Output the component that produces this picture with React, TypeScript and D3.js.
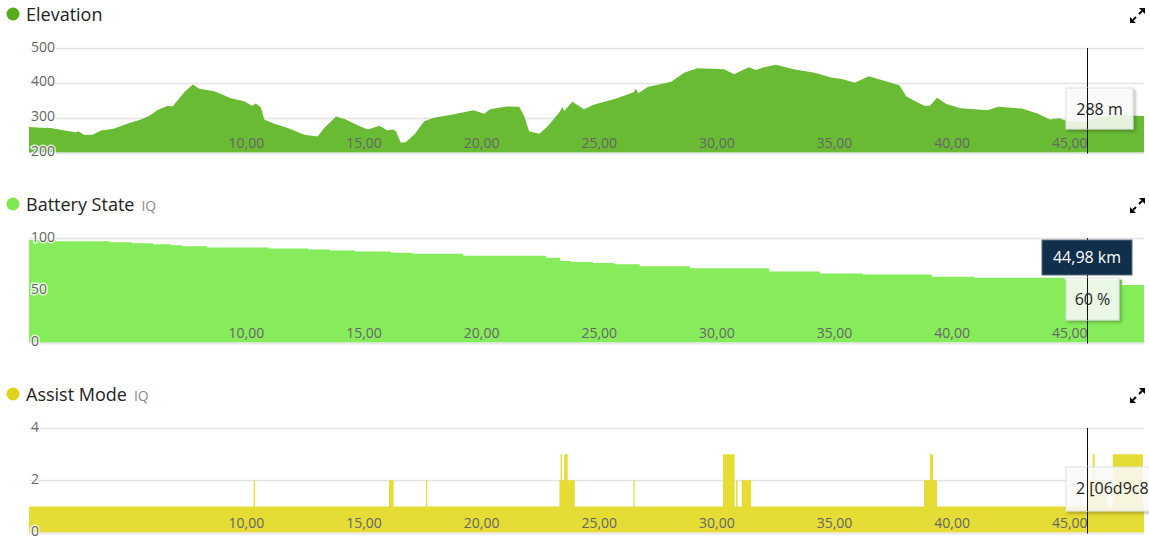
import { useEffect, useRef } from 'react';
import * as d3 from 'd3';

// Elevation profile (km, m)
const elevKm = [0, 0.5, 0.93, 1.5, 2.0, 2.1, 2.35, 2.7, 3.06, 3.6, 4.2, 4.76, 5.1, 5.47, 5.9, 6.1, 6.25, 6.6, 6.96, 7.24, 7.88, 8.58, 9.15, 9.48, 9.65, 9.86, 10.0, 10.4, 11.0, 11.7, 12.27, 12.55, 13.05, 13.47, 13.97, 14.4, 14.9, 15.24, 15.45, 15.6, 15.8, 16.0, 16.4, 16.8, 17.2, 17.9, 18.9, 19.35, 19.6, 20.3, 20.84, 21.05, 21.26, 21.7, 22.04, 22.54, 22.68, 22.75, 23.1, 23.6, 24.0, 25.0, 25.7, 25.8, 25.9, 26.3, 27.3, 27.85, 28.4, 29.55, 29.97, 30.6, 30.9, 31.25, 31.75, 32.5, 33.4, 34.1, 34.6, 35.1, 35.7, 36.35, 37.0, 37.3, 38.05, 38.3, 38.6, 39.0, 39.6, 40.75, 41.2, 42.2, 42.9, 43.4, 43.8, 44.15, 44.98, 45.3, 46.4, 47.3, 47.4];
const elevM = [273, 271, 270, 263, 258, 261, 250, 251, 263, 268, 283, 295, 305, 322, 334, 332, 344, 373, 395, 383, 376, 356, 347, 334, 341, 329, 295, 283, 270, 251, 246, 270, 303, 295, 278, 266, 277, 263, 267, 261, 229, 229, 253, 290, 300, 308, 321, 311, 324, 332, 331, 305, 261, 254, 275, 315, 331, 319, 346, 324, 337, 356, 373, 383, 370, 388, 403, 429, 442, 439, 425, 445, 437, 445, 452, 439, 429, 415, 410, 400, 419, 406, 393, 361, 334, 334, 357, 339, 327, 321, 331, 326, 311, 295, 298, 290, 288, 300, 308, 305, 305];

// Battery state steps (km where the step begins, %)
const batteryKm = [0, 1.15, 2.07, 3.44, 4.37, 5.28, 6.05, 6.51, 7.58, 10.19, 11.87, 12.79, 13.86, 15.39, 16.31, 18.45, 21.98, 22.59, 23.05, 23.97, 24.89, 25.96, 28.1, 31.47, 33.62, 35.46, 38.37, 40.2, 44.03, 46.47, 47.4];
const batteryPct = [98, 97, 97, 96, 95, 94, 93, 92, 91, 90, 89, 88, 87, 86, 85, 83, 81, 78, 77, 76, 75, 73, 71, 68, 66, 65, 63, 62, 60, 55, 55];

// Assist mode steps (km where the step begins, mode)
const assistKm = [0, 9.55, 9.61, 15.3, 15.5, 16.88, 16.93, 22.55, 22.6, 22.66, 22.75, 22.9, 23.2, 25.7, 25.75, 29.5, 30.0, 30.06, 30.12, 30.3, 30.7, 38.05, 38.3, 38.43, 38.6, 45.0, 45.22, 45.3, 45.8, 46.07, 47.35, 47.4];
const assistMode = [1, 2, 1, 2, 1, 2, 1, 2, 3, 2, 3, 2, 1, 2, 1, 3, 1, 2, 1, 2, 1, 2, 3, 2, 1, 2, 3, 2, 1, 3, 1, 1];

const kmTicks = [10, 15, 20, 25, 30, 35, 40, 45];
const elevTicks = [200, 300, 400, 500];
const batteryTicks = [0, 50, 100];
const assistTicks = [0, 2, 4];
const cursorKm = 44.98;

const panels = [
    { title: 'Elevation', iq: false, dot: '#58ab1c', fill: '#6abb34', km: elevKm, vals: elevM, domain: [200, 500], ticks: elevTicks, step: false },
    { title: 'Battery State', iq: true, dot: '#7ee84f', fill: '#86ec5b', km: batteryKm, vals: batteryPct, domain: [0, 100], ticks: batteryTicks, step: true },
    { title: 'Assist Mode', iq: true, dot: '#e0d31c', fill: '#e5dc35', km: assistKm, vals: assistMode, domain: [0, 4], ticks: assistTicks, step: true }
];

const App = () => {
    const svgRef = useRef<SVGSVGElement>(null);

    useEffect(() => {
        if (!svgRef.current) return;
        d3.select(svgRef.current).selectAll('*').remove();

        const width = 1149;
        const height = 545;
        const font = '"Open Sans", "Noto Sans", sans-serif';

        const svg = d3.select(svgRef.current)
            .attr('width', width)
            .attr('height', height)
            .style('font-family', font);

        const defs = svg.append('defs');
        const shadow = defs.append('filter').attr('id', 'tipShadow')
            .attr('x', '-20%').attr('y', '-20%').attr('width', '150%').attr('height', '150%');
        shadow.append('feDropShadow')
            .attr('dx', 2).attr('dy', 2).attr('stdDeviation', 1.5)
            .attr('flood-color', '#000').attr('flood-opacity', 0.3);

        const xScale = d3.scaleLinear().domain([0, 47.4]).range([29, 1144]);
        const cx = Math.round(xScale(cursorKm)) + 0.5;

        panels.forEach((p, i) => {
            const off = i * 190;
            const top = 48 + off;
            const bottom = 152.5 + off;
            const g = svg.append('g');

            const yScale = d3.scaleLinear().domain(p.domain).range([bottom, top]);

            // header
            g.append('circle')
                .attr('cx', 13).attr('cy', 14 + off).attr('r', 6.5)
                .attr('fill', p.dot);
            const title = g.append('text')
                .attr('x', 26).attr('y', 21 + off)
                .attr('fill', '#222')
                .attr('font-size', '18px')
                .text(p.title);
            if (p.iq) {
                const tw = (title.node() as SVGTextElement).getComputedTextLength();
                g.append('text')
                    .attr('x', 26 + tw + 7).attr('y', 21 + off)
                    .attr('fill', '#8a8a8a')
                    .attr('font-size', '14px')
                    .text('IQ');
            }

            // expand icon
            const ix = 1130, iy = 8 + off;
            g.append('path')
                .attr('d', `M${ix + 15},${iy} L${ix + 15},${iy + 6} L${ix + 9},${iy} Z M${ix},${iy + 15} L${ix},${iy + 9} L${ix + 6},${iy + 15} Z`)
                .attr('fill', '#000');
            g.append('path')
                .attr('d', `M${ix + 12},${iy + 3} L${ix + 9},${iy + 6} M${ix + 3},${iy + 12} L${ix + 6},${iy + 9}`)
                .attr('stroke', '#000').attr('stroke-width', 2);

            // grid
            g.selectAll('.grid')
                .data(p.ticks)
                .join('line')
                .attr('class', 'grid')
                .attr('x1', 29).attr('x2', 1144)
                .attr('y1', d => Math.round(yScale(d)) + 0.5)
                .attr('y2', d => Math.round(yScale(d)) + 0.5)
                .attr('stroke', '#e3e3e3')
                .attr('stroke-width', 1.5);

            // area
            const area = d3.area<number>()
                .x((d, j) => xScale(p.km[j]))
                .y0(bottom)
                .y1(d => yScale(d))
                .curve(p.step ? d3.curveStepAfter : d3.curveLinear);

            g.append('path')
                .datum(p.vals)
                .attr('d', area)
                .attr('fill', p.fill);

            // bottom axis line
            g.append('line')
                .attr('x1', 29).attr('x2', 1144)
                .attr('y1', bottom + 1).attr('y2', bottom + 1)
                .attr('stroke', '#e6e8ee').attr('stroke-width', 1.5);

            // x labels
            g.selectAll('.xlab')
                .data(kmTicks)
                .join('text')
                .attr('class', 'xlab')
                .attr('x', d => xScale(d))
                .attr('y', bottom - 4.5)
                .attr('text-anchor', 'end')
                .attr('fill', '#666')
                .attr('font-size', '14px')
                .text(d => d3.format('.2f')(d).replace('.', ','));

            // y labels
            g.selectAll('.ylab')
                .data(p.ticks)
                .join('text')
                .attr('class', 'ylab')
                .attr('x', 31)
                .attr('y', d => yScale(d) + 3.5)
                .attr('fill', '#666')
                .attr('font-size', '14px')
                .attr('stroke', '#fff')
                .attr('stroke-width', 3)
                .attr('stroke-opacity', 0.8)
                .attr('paint-order', 'stroke')
                .text(d => d);

            // cursor
            g.append('line')
                .attr('class', 'cursor')
                .attr('x1', cx).attr('x2', cx)
                .attr('y1', top).attr('y2', bottom + 1)
                .attr('stroke', '#111').attr('stroke-width', 1);
        });

        // tooltips
        const lightTip = (x: number, y: number, w: number, h: number, label: string, tx: number, anchor: string) => {
            const t = svg.append('g');
            t.append('rect')
                .attr('x', x).attr('y', y).attr('width', w).attr('height', h)
                .attr('fill', 'rgba(255,255,255,0.82)')
                .attr('stroke', '#ddd').attr('stroke-width', 1)
                .attr('filter', 'url(#tipShadow)');
            t.append('line')
                .attr('x1', cx).attr('x2', cx).attr('y1', y).attr('y2', y + h)
                .attr('stroke', '#111').attr('stroke-width', 1);
            t.append('text')
                .attr('x', tx).attr('y', y + 27)
                .attr('text-anchor', anchor)
                .attr('fill', '#222')
                .attr('font-size', '16px')
                .text(label);
        };

        lightTip(1066, 88, 67, 41, '288 m', 1099.5, 'middle');
        lightTip(1066, 278, 53, 42, '60 %', 1092.5, 'middle');
        lightTip(1066, 467, 95, 44, '2 [06d9c8', 1076, 'start');

        const dark = svg.append('g');
        dark.append('rect')
            .attr('x', 1042).attr('y', 240).attr('width', 90).attr('height', 35)
            .attr('fill', '#0f2f4b')
            .attr('stroke', '#5b6f80').attr('stroke-width', 1);
        dark.append('text')
            .attr('x', 1087).attr('y', 263)
            .attr('text-anchor', 'middle')
            .attr('fill', '#fff')
            .attr('font-size', '16px')
            .text('44,98 km');
    }, []);

    return (
        <div style={{ position: 'fixed', left: 0, top: 0, width: 1149, height: 545, background: '#fff' }}>
            <svg ref={svgRef} style={{ display: 'block' }}></svg>
        </div>
    );
};

export default App;
